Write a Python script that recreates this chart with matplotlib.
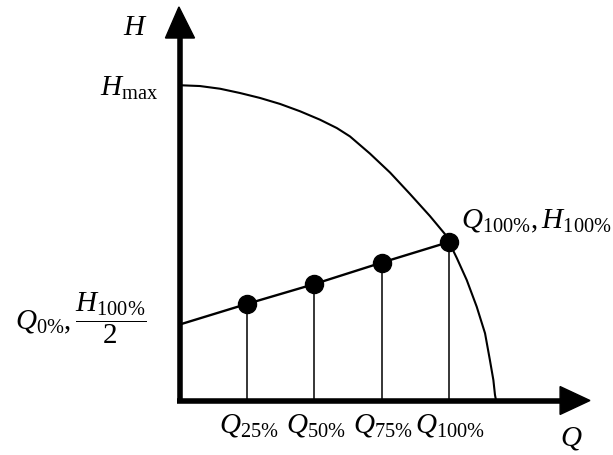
import numpy as np
import matplotlib
matplotlib.use("Agg")
import matplotlib.pyplot as plt
from matplotlib.patches import Polygon

plt.rcParams["mathtext.fontset"] = "custom"
plt.rcParams["mathtext.rm"] = "Liberation Serif"
plt.rcParams["mathtext.it"] = "Liberation Serif:italic"
plt.rcParams["font.family"] = "Liberation Serif"

# pump curve H(Q) (Q in units of Q100%, H in units of H100%)
curva_q = [0.0, 0.074, 0.149, 0.223, 0.297, 0.372, 0.446, 0.520, 0.583,
           0.632, 0.706, 0.781, 0.855, 0.929, 0.985, 1.0, 1.029, 1.066,
           1.103, 1.134, 1.152, 1.165, 1.171, 1.175]
curva_h = [1.989, 1.984, 1.967, 1.940, 1.909, 1.871, 1.825, 1.772, 1.719,
           1.666, 1.558, 1.438, 1.303, 1.164, 1.050, 1.0, 0.899, 0.760,
           0.592, 0.424, 0.256, 0.129, 0.035, 0.0]

# operating points along the control line
puntos_q = [0.25, 0.50, 0.75, 1.0]
puntos_h = [0.61, 0.735, 0.87, 1.0]
h_inicio = 0.48  # line start at Q = 0
etiquetas_q = [r"$Q_{25\%}$", r"$Q_{50\%}$", r"$Q_{75\%}$", r"$Q_{100\%}$"]

fig = plt.figure(figsize=(6.13, 4.55), dpi=100)
ax = fig.add_axes([0, 0, 1, 1])
ax.set_xlim(-0.6691, 1.6097)
ax.set_ylim(-0.3438, 2.5268)
ax.axis("off")

# axes with arrow heads
ax.plot([0, 0], [0, 2.30], color="black", lw=4, solid_capstyle="butt")
ax.plot([-0.011, 1.42], [0, 0], color="black", lw=4, solid_capstyle="butt")
ax.add_patch(Polygon([[-0.054, 2.287], [0.054, 2.287], [-0.004, 2.483]],
                     closed=True, color="black"))
ax.add_patch(Polygon([[1.413, -0.088], [1.413, 0.088], [1.524, 0.0]],
                     closed=True, color="black"))

# pump curve
ax.plot(curva_q, curva_h, color="black", lw=1.5, solid_joinstyle="round")

# control line and verticals
ax.plot([0] + puntos_q, [h_inicio] + puntos_h, color="black", lw=1.7)
for q, h in zip(puntos_q, puntos_h):
    ax.plot([q, q], [0, h], color="black", lw=1.1)
ax.plot(puntos_q, puntos_h, "o", color="black", markersize=13)

fs = 21
for q, lab in zip(puntos_q, etiquetas_q):
    ax.text(q + 0.005, -0.07, lab, ha="center", va="top", fontsize=fs)

ax.text(-0.167, 2.35, r"$H$", ha="center", va="center", fontsize=fs)
ax.text(-0.19, 1.97, r"$H_{\mathrm{max}}$", ha="center", va="center", fontsize=fs)
ax.text(-0.37, 0.52, r"$Q_{0\%},\dfrac{H_{100\%}}{2}$", ha="center", va="center",
        fontsize=fs)
ax.text(1.325, 1.13, r"$Q_{100\%},H_{100\%}$", ha="center", va="center", fontsize=fs)
ax.text(1.455, -0.24, r"$Q$", ha="center", va="center", fontsize=fs)

fig.savefig("out.png", dpi=100)
